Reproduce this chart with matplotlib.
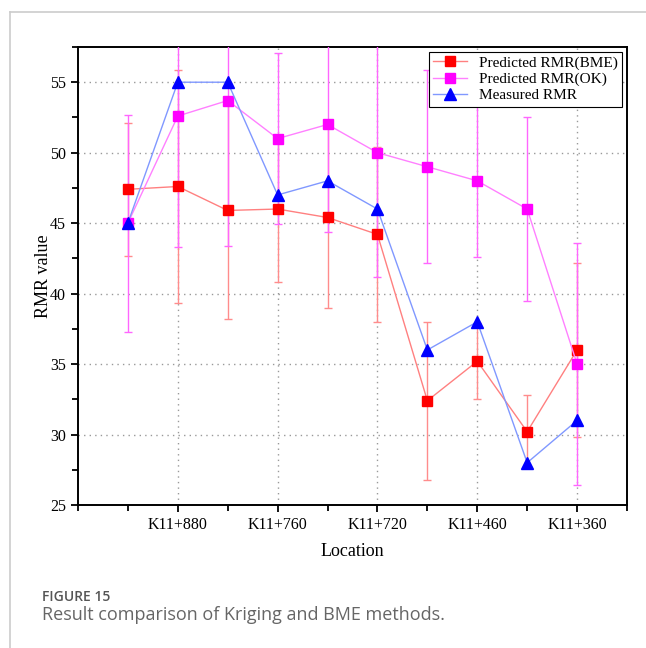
import matplotlib.pyplot as plt
from matplotlib.lines import Line2D
from matplotlib.ticker import MultipleLocator

# data
positions = [1, 2, 3, 4, 5, 6, 7, 8, 9, 10]
tick_pos = [2, 4, 6, 8, 10]
tick_labels = ["K11+880", "K11+760", "K11+720", "K11+460", "K11+360"]

bme = [47.4, 47.6, 45.9, 46.0, 45.4, 44.2, 32.4, 35.2, 30.2, 36.0]
bme_err = [4.7, 8.3, 7.7, 5.2, 6.45, 6.2, 5.6, 2.7, 2.6, 6.2]
ok = [45.0, 52.6, 53.7, 51.0, 52.0, 50.0, 49.0, 48.0, 46.0, 35.0]
ok_err = [7.7, 9.3, 10.3, 6.06, 7.6, 8.8, 6.85, 5.4, 6.5, 8.6]
measured = [45, 55, 55, 47, 48, 46, 36, 38, 28, 31]

plt.rcParams["font.family"] = ["Liberation Serif", "DejaVu Serif"]

fig = plt.figure(figsize=(6.46, 6.48), dpi=100)
ax = fig.add_axes([0.1207, 0.2207, 0.8499, 0.7068])

h_bme = ax.errorbar(positions, bme, yerr=bme_err, color="#ff8080", ecolor="#ff8c8c",
                    elinewidth=1.0, capsize=3, capthick=1.0, lw=1.0,
                    marker="s", ms=7.5, mfc="#ff0000", mec="#ff0000",
                    label="Predicted RMR(BME)", zorder=3)
h_ok = ax.errorbar(positions, ok, yerr=ok_err, color="#ff80ff", ecolor="#ff66ff",
                   elinewidth=1.0, capsize=3, capthick=1.0, lw=1.0,
                   marker="s", ms=7.5, mfc="#ff00ff", mec="#ff00ff",
                   label="Predicted RMR(OK)", zorder=3)
h_meas, = ax.plot(positions, measured, color="#8098ff", lw=1.0,
                  marker="^", ms=9, mfc="#0000ff", mec="#0000ff",
                  label="Measured RMR", zorder=4)

ax.set_xlim(0, 11)
ax.set_ylim(25, 57.5)
ax.set_xticks(tick_pos)
ax.set_xticklabels(tick_labels)
ax.xaxis.set_minor_locator(MultipleLocator(1))
ax.yaxis.set_major_locator(MultipleLocator(5))
ax.yaxis.set_minor_locator(MultipleLocator(2.5))
ax.tick_params(which="major", direction="out", length=5, width=1.3, labelsize=11.5)
ax.tick_params(which="minor", direction="out", length=4, width=1.3)
for lab in ax.get_xticklabels() + ax.get_yticklabels():
    lab.set_family(["Liberation Serif", "DejaVu Serif"])
ax.grid(True, which="major", color="#999999", linestyle=(0, (1, 3)), lw=1.0)
for s in ax.spines.values():
    s.set_linewidth(1.4)

ax.set_xlabel("Location", fontsize=13, labelpad=7)
ax.set_ylabel("RMR value", fontsize=13, labelpad=-1)

leg = ax.legend([h_bme[0], h_ok[0], h_meas],
                ["Predicted RMR(BME)", "Predicted RMR(OK)", "Measured RMR"],
                loc="upper right", fontsize=11, fancybox=False, framealpha=1,
                edgecolor="black", borderpad=0.3, labelspacing=0.15,
                handlelength=2.2, borderaxespad=0.3)
leg.get_frame().set_linewidth(0.8)

# card border and caption
fig.add_artist(Line2D([10 / 646, 1], [1 - 12 / 648, 1 - 12 / 648],
                      transform=fig.transFigure, color="#cccccc", lw=1.2))
fig.add_artist(Line2D([10 / 646, 10 / 646], [0, 1 - 12 / 648],
                      transform=fig.transFigure, color="#cccccc", lw=1.2))
fig.text(42 / 646, 1 - 597 / 648, "FIGURE 15", fontsize=10, color="#555555",
         family=["Open Sans", "DejaVu Sans"], fontweight="semibold", va="center")
fig.text(42 / 646, 1 - 615 / 648, "Result comparison of Kriging and BME methods.",
         fontsize=13, color="#666666", family=["Open Sans", "DejaVu Sans"], va="center")

fig.savefig("out.png", dpi=100)
